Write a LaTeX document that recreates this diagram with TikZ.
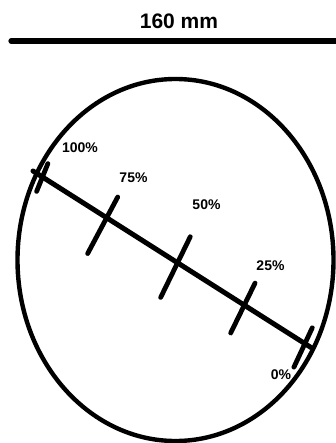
\documentclass[tikz,border=0pt]{standalone}
\usepackage{fontspec}
\setmainfont{Liberation Sans}
\usetikzlibrary{calc}

\begin{document}
\begin{tikzpicture}[
  x=1pt, y=-1pt,
  font=\bfseries,
  rule/.style={line width=5.2pt, line cap=round},
  rim/.style={line width=4.4pt},
  gauge/.style={line width=5pt, line cap=round},
  marker/.style={line width=4.8pt, line cap=round},
  pctlabel/.style={font=\fontsize{14}{16}\selectfont\bfseries, anchor=base, inner sep=0pt},
  title/.style={font=\fontsize{21}{24}\selectfont\bfseries, anchor=base, inner sep=0pt}
]
\useasboundingbox (0,0) rectangle (336,443);

% Scale bar
\node[title] (width) at (179,29) {160 mm};
\coordinate (barleft) at (11,41);
\coordinate (barright) at (340,41);
\draw[rule] (barleft) -- (barright);

% Outline
\draw[rim] (175.5,260) ellipse [x radius=158, y radius=181];

% Measuring line with ticks
\coordinate (start) at (33,171);
\coordinate (end) at (311,347.5);
\draw[gauge] (start) -- (end);

\foreach \pos/\ang/\up/\dn/\name in {0.034/68/14.5/15.5/full, 0.265/62/23.5/40.5/threeq, 0.52/64/29/38.5/half, 0.76/64/24.5/31/quarter, 0.978/65/17.5/26/zero}{
  \coordinate (tick\name) at ($(start)!\pos!(end)$);
  \draw[marker] ($(tick\name)+(-\ang:\up)$) -- ($(tick\name)+(180-\ang:\dn)$);
}

% Labels
\node[pctlabel] (lblfull) at (80,153) {100\%};
\node[pctlabel] (lblthreeq) at (133.5,183) {75\%};
\node[pctlabel] (lblhalf) at (206.5,210) {50\%};
\node[pctlabel] (lblquarter) at (270.5,270) {25\%};
\node[pctlabel] (lblzero) at (281,379) {0\%};
\end{tikzpicture}
\end{document}
